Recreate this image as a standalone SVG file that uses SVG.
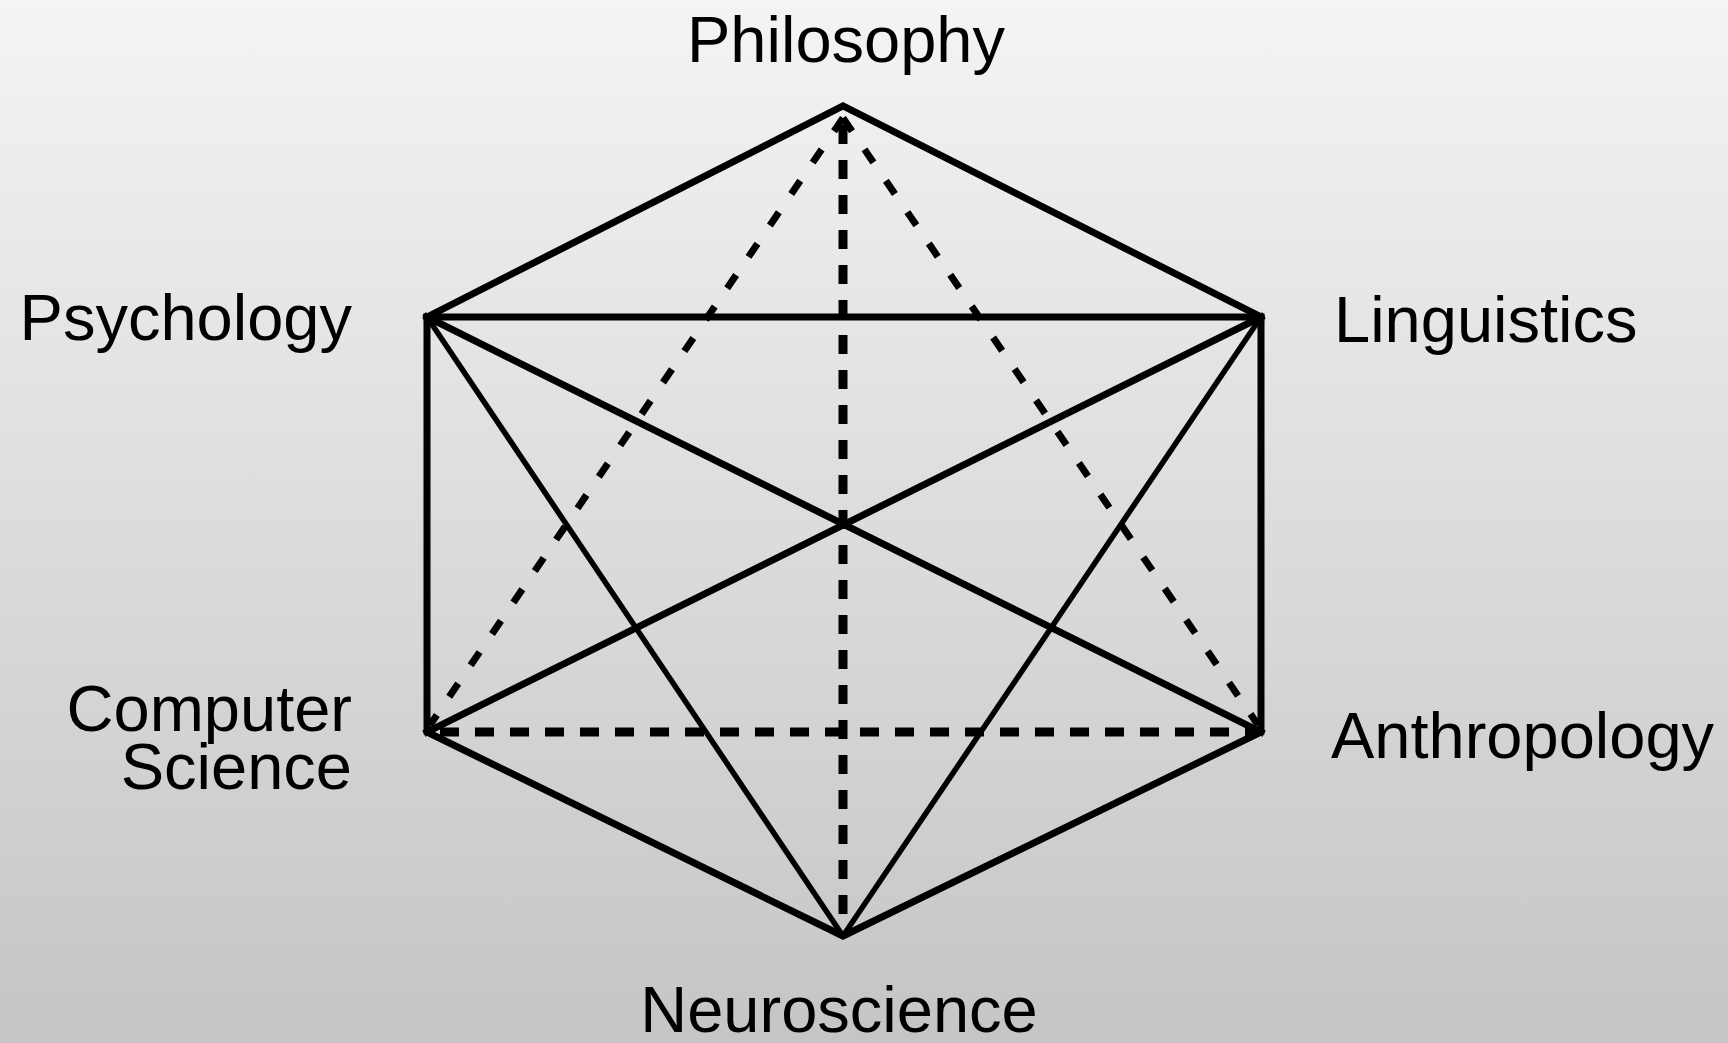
<svg xmlns="http://www.w3.org/2000/svg" width="1728" height="1043" viewBox="0 0 1728 1043">
<defs>
<linearGradient id="bg" x1="0" y1="0" x2="0" y2="1">
<stop offset="0" stop-color="#f4f4f4"/>
<stop offset="1" stop-color="#c5c5c5"/>
</linearGradient>
</defs>
<style>
.lbl{font-family:"Liberation Sans",Arial,sans-serif;font-size:65px;fill:#000}
.solid{stroke:#000;stroke-width:7;fill:none;stroke-linejoin:miter;stroke-linecap:square}
.thin{stroke:#000;stroke-width:5.5;fill:none}
.dash{stroke:#000;stroke-width:9;fill:none;stroke-dasharray:19 16}
.dot{stroke:#000;stroke-width:7;fill:none;stroke-dasharray:16 22}
</style>
<rect x="0" y="0" width="1728" height="1043" fill="url(#bg)"/>
<g id="connectors">
<line class="dot" x1="843" y1="118" x2="430" y2="725"/>
<line class="dot" x1="843" y1="118" x2="1258" y2="725"/>
<line class="dash" x1="843" y1="125" x2="843" y2="930"/>
<line class="dash" x1="440" y1="732" x2="1255" y2="732"/>
<polyline class="solid" points="427,317 843,106 1261,317 1261,732 843,936 427,732 427,317"/>
<line class="solid" x1="427" y1="317" x2="1261" y2="317"/>
<line class="solid" x1="427" y1="317" x2="1261" y2="732"/>
<line class="solid" x1="1261" y1="317" x2="427" y2="732"/>
<line class="thin" x1="427" y1="317" x2="843" y2="936"/>
<line class="thin" x1="1261" y1="317" x2="843" y2="936"/>
</g>
<g id="philosophy"><text class="lbl" x="846" y="62" text-anchor="middle">Philosophy</text></g>
<g id="psychology"><text class="lbl" x="352" y="340" text-anchor="end">Psychology</text></g>
<g id="linguistics"><text class="lbl" x="1334" y="342">Linguistics</text></g>
<g id="computer-science"><text class="lbl" x="352" y="731" text-anchor="end">Computer</text><text class="lbl" x="352" y="789" text-anchor="end">Science</text></g>
<g id="anthropology"><text class="lbl" x="1331" y="758">Anthropology</text></g>
<g id="neuroscience"><text class="lbl" x="839" y="1032" text-anchor="middle">Neuroscience</text></g>
</svg>
